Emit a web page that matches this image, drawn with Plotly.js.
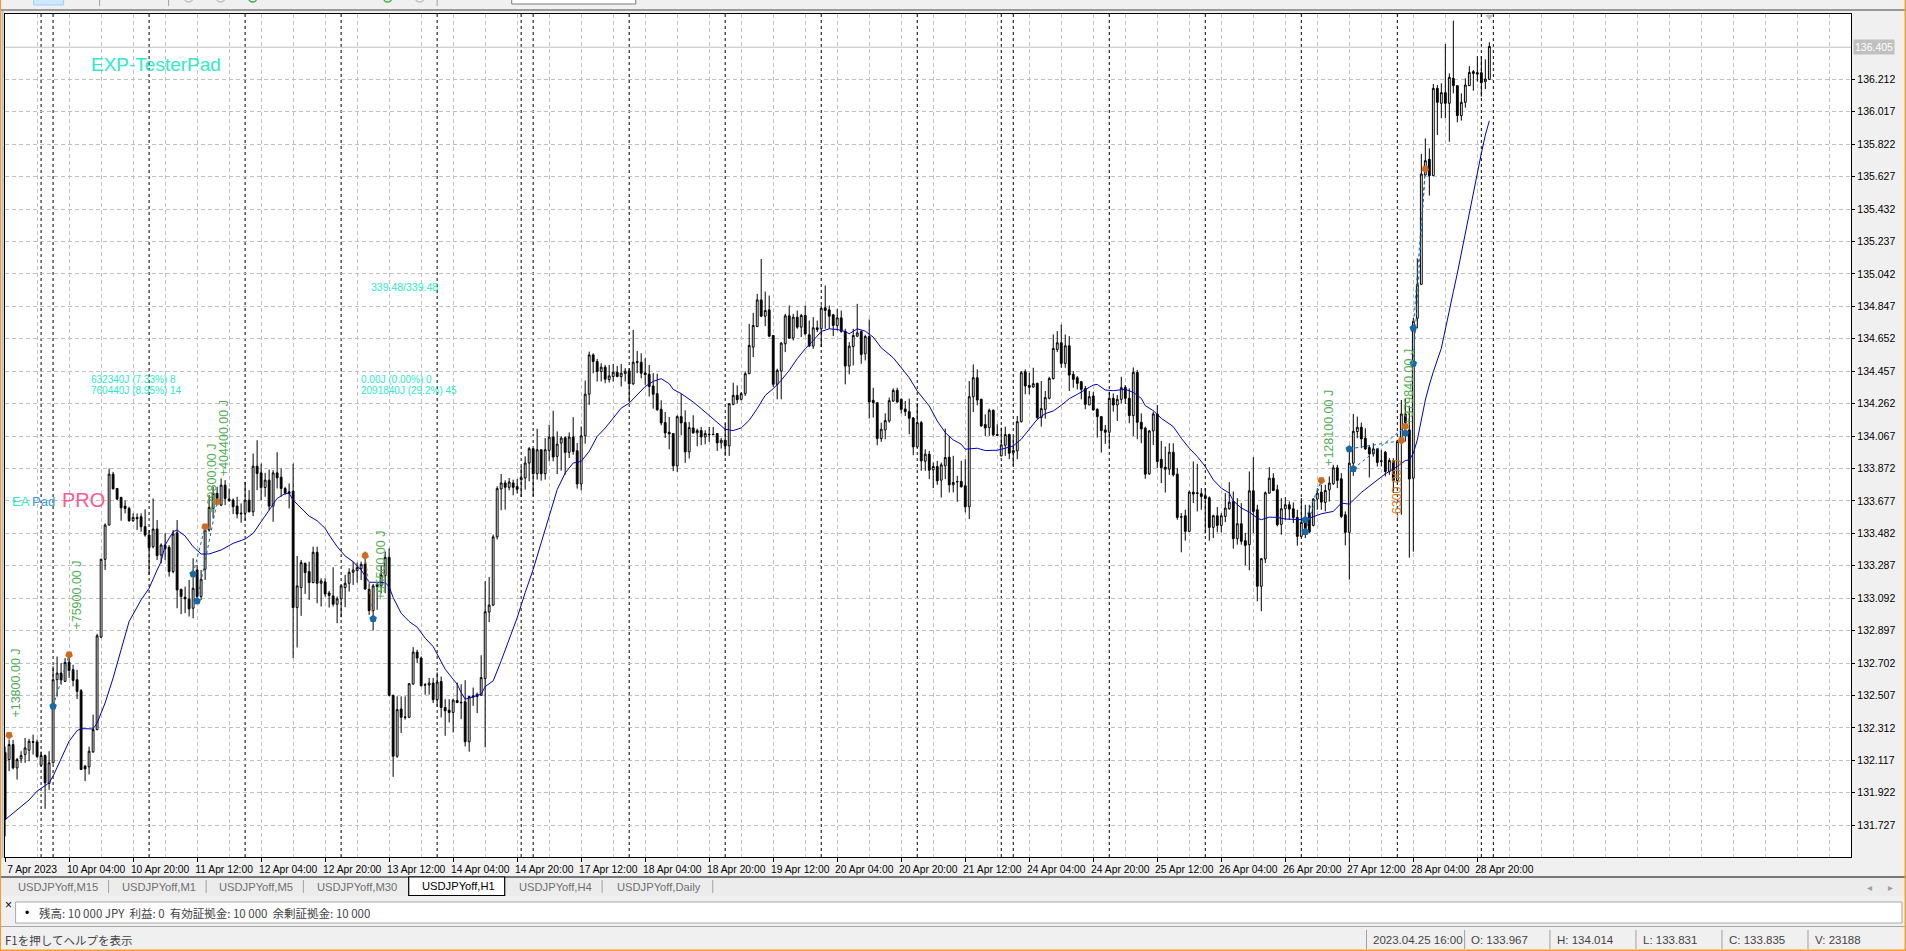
<!DOCTYPE html>
<html><head><meta charset="utf-8"><title>USDJPYoff,H1</title>
<script src="https://cdn.plot.ly/plotly-3.0.1.min.js"></script>
<style>html,body{margin:0;padding:0;background:#f0f0f0;overflow:hidden}#chart{width:1906px;height:951px}</style>
</head><body><div id="chart"></div>
<script>
// every row: open, high, low, close (price, USDJPY H1)
const barsA = [
[132.164,132.2,131.66,131.762],[132.122,132.242,132.052,132.212],[132.212,132.24,132.062,132.072],[132.072,132.132,132.002,132.122],
[132.126,132.172,132.102,132.146],[132.152,132.252,132.102,132.192],[132.178,132.246,132.112,132.232],[132.23,132.272,132.152,132.226],
[132.228,132.242,132.132,132.14],[132.088,132.17,132.08,132.146],[132.146,132.152,131.826,131.982],[131.978,132.172,131.94,132.102],
[132.102,132.682,132.1,132.602],[132.602,132.742,132.5,132.642],[132.642,132.702,132.572,132.6],[132.592,132.732,132.588,132.706],
[132.708,132.742,132.612,132.658],[132.662,132.692,132.562,132.598],[132.602,132.662,132.486,132.532],[132.536,132.546,132.06,132.062],
[132.082,132.09,131.992,132.066],[132.078,132.2,132.032,132.172],[132.168,132.392,132.162,132.302],[132.302,132.878,132.298,132.866],
[132.858,133.33,132.852,133.326],[133.326,133.542,133.262,133.532],[133.532,133.872,133.53,133.838],[133.838,133.852,133.746,133.75],
[133.752,133.752,133.682,133.688],[133.698,133.702,133.558,133.636],[133.646,133.68,133.602,133.632],[133.632,133.642,133.552,133.558],
[133.558,133.602,133.552,133.578],[133.578,133.602,133.502,133.57],[133.582,133.602,133.492,133.522],[133.522,133.626,133.462,133.472],
[133.472,133.502,133.232,133.396],[133.402,133.692,133.392,133.508],[133.508,133.562,133.322,133.348],[133.352,133.422,133.302,133.412],
[133.412,133.482,133.322,133.39],[133.398,133.412,133.222,133.252],[133.252,133.502,133.242,133.478],[133.486,133.562,133.032,133.142],
[133.146,133.148,132.996,133.102],[133.098,133.162,133.002,133.088],[133.086,133.202,132.982,133.028],[133.032,133.332,132.972,133.152],
[133.262,133.292,133.062,133.102],[133.102,133.262,133.082,133.206],[133.266,133.532,133.202,133.502],[133.502,133.712,133.492,133.638],
[133.632,133.762,133.572,133.722],[133.722,133.762,133.662,133.692]];
const barsB = [
[133.652,133.812,133.646,133.772],[133.772,133.802,133.652,133.692],[133.688,133.752,133.672,133.678],[133.682,133.692,133.598,133.642],
[133.646,133.702,133.572,133.598],[133.604,133.662,133.546,133.6],[133.602,133.792,133.558,133.682],[133.682,133.742,133.608,133.612],
[133.612,133.962,133.586,133.886],[133.886,134.042,133.742,133.842],[133.846,133.902,133.682,133.758],[133.758,133.846,133.702,133.802],
[133.802,133.866,133.622,133.646],[133.646,133.862,133.552,133.846],[133.846,133.97,133.752,133.816],[133.82,133.872,133.702,133.752],
[133.752,133.762,133.712,133.726],[133.732,133.782,133.632,133.722],[133.736,133.902,132.732,133.036],[133.036,133.346,132.796,133.166],
[133.156,133.322,132.986,133.306],[133.302,133.306,133.118,133.246],[133.252,133.312,133.082,133.186],[133.186,133.402,133.182,133.368],
[133.368,133.402,133.062,133.182],[133.182,133.212,133.042,133.196],[133.19,133.212,133.102,133.118],[133.124,133.136,133.036,133.108],
[133.106,133.278,133.042,133.056],[133.056,133.102,132.942,133.088],[133.088,133.172,132.978,133.166],[133.156,133.232,133.038,133.182],
[133.182,133.272,133.132,133.248],[133.248,133.312,133.172,133.262],[133.258,133.306,133.186,133.276],[133.27,133.312,133.202,133.296],
[133.298,133.372,133.142,133.148],[133.146,133.182,132.992,133.018],[133.018,133.178,132.898,133.166],[133.176,133.186,133.022,133.162],
[133.166,133.292,133.122,133.232],[133.228,133.372,133.122,133.338],[133.338,133.392,132.502,132.508],[132.508,132.512,132.018,132.142],
[132.142,132.502,132.132,132.422],[132.426,132.502,132.282,132.376],[132.378,132.502,132.362,132.376],[132.376,132.582,132.372,132.578],
[132.576,132.798,132.572,132.768],[132.768,132.782,132.702,132.732],[132.732,132.742,132.562,132.566],[132.572,132.582,132.512,132.57],
[132.57,132.612,132.512,132.582],[132.582,132.612,132.462,132.482]];
const barsC = [
[132.482,132.646,132.442,132.588],[132.591,132.621,132.375,132.435],[132.435,132.485,132.265,132.415],[132.419,132.485,132.345,132.405],
[132.405,132.489,132.285,132.479],[132.477,132.585,132.461,132.465],[132.466,132.575,132.365,132.464],[132.469,132.599,132.201,132.229],
[132.229,132.503,132.169,132.501],[132.497,132.555,132.445,132.505],[132.501,132.525,132.401,132.515],[132.509,132.749,132.505,132.615],
[132.609,133.195,132.195,133.011],[133.009,133.219,132.949,133.051],[133.051,133.475,133.045,133.461],[133.461,133.765,133.445,133.751],
[133.749,133.839,133.621,133.785],[133.785,133.801,133.625,133.759],[133.759,133.815,133.741,133.791],[133.785,133.805,133.711,133.759],
[133.763,133.809,133.721,133.747],[133.805,133.885,133.701,133.817],[133.815,133.945,133.745,133.905],[133.905,134.001,133.795,133.991],
[133.991,133.995,133.705,133.841],[133.841,134.111,133.805,133.985],[133.985,133.985,133.799,133.841],[133.841,134.055,133.805,133.985],
[133.981,134.135,133.915,134.061],[134.061,134.219,133.915,133.941],[133.945,134.095,133.839,134.019],[134.025,134.065,133.859,134.055],
[134.057,134.065,133.835,133.969],[133.969,134.089,133.935,134.061],[134.061,134.181,133.955,133.975],[133.979,134.025,133.751,133.779],
[133.779,134.125,133.741,134.069],[134.069,134.401,134.021,134.319],[134.319,134.575,134.255,134.555],[134.555,134.565,134.445,134.515],
[134.515,134.531,134.395,134.455],[134.455,134.505,134.395,134.481],[134.481,134.495,134.385,134.409],[134.407,134.495,134.389,134.429],
[134.425,134.501,134.395,134.451],[134.451,134.489,134.421,134.425],[134.425,134.501,134.365,134.445],[134.443,134.475,134.395,134.457],
[134.459,134.475,134.271,134.381],[134.381,134.705,134.375,134.511],[134.515,134.579,134.445,134.511],[134.511,134.565,134.415,134.445],
[134.447,134.535,134.375,134.437],[134.439,134.495,134.305,134.365]];
const barsD = [
[134.368,134.446,134.232,134.318],[134.322,134.442,134.218,134.226],[134.228,134.282,134.132,134.146],[134.148,134.212,134.056,134.086],
[134.09,134.182,133.988,134.08],[134.082,134.082,133.856,133.888],[133.888,134.192,133.852,134.184],[134.184,134.322,134.072,134.146],
[134.148,134.222,133.906,133.972],[133.972,134.152,133.932,134.118],[134.116,134.192,134.082,134.086],[134.086,134.112,134.006,134.1],
[134.1,134.122,134.012,134.062],[134.062,134.102,134.018,134.082],[134.078,134.122,134.032,134.076],[134.078,134.122,134.072,134.076],
[134.082,134.082,133.978,134.026],[134.026,134.056,133.992,134.042],[134.042,134.142,133.948,134.008],[134.008,134.262,133.948,134.262],
[134.258,134.388,134.252,134.312],[134.312,134.372,134.262,134.286],[134.288,134.332,134.282,134.322],[134.322,134.456,134.308,134.442],
[134.442,134.742,134.44,134.612],[134.602,134.808,134.542,134.732],[134.726,134.922,134.722,134.886],[134.886,135.132,134.782,134.788],
[134.788,134.936,134.728,134.822],[134.826,134.912,134.662,134.668],[134.672,134.672,134.362,134.378],[134.378,134.472,134.288,134.462],
[134.458,134.632,134.288,134.626],[134.622,134.802,134.572,134.79],[134.79,134.852,134.652,134.656],[134.656,134.802,134.642,134.782],
[134.782,134.822,134.712,134.722],[134.722,134.802,134.662,134.792],[134.792,134.852,134.672,134.682],[134.676,134.762,134.602,134.608],
[134.608,134.782,134.592,134.718],[134.718,134.762,134.692,134.708],[134.712,134.852,134.602,134.836],[134.838,134.972,134.712,134.822],
[134.826,134.852,134.712,134.788],[134.796,134.802,134.668,134.732],[134.732,134.832,134.702,134.778],[134.778,134.822,134.688,134.696],
[134.696,134.712,134.378,134.488],[134.488,134.632,134.438,134.608],[134.606,134.712,134.492,134.672],[134.668,134.862,134.662,134.688],
[134.696,134.702,134.502,134.558],[134.562,134.676,134.522,134.666],[134.666,134.768,134.172,134.272]];
const barsE = [
[134.282,134.358,134.178,134.268],[134.268,134.268,134.012,134.052],[134.052,134.148,134.032,134.108],[134.104,134.204,134.048,134.16],
[134.158,134.298,134.148,134.28],[134.278,134.354,134.272,134.342],[134.342,134.358,134.268,134.272],[134.288,134.294,134.204,134.228],
[134.23,134.278,134.188,134.214],[134.214,134.292,134.078,134.174],[134.176,134.182,133.952,134.002],[134.002,134.264,133.998,134.148],
[134.148,134.158,133.858,133.918],[133.916,133.988,133.858,133.958],[133.958,133.978,133.808,133.862],[133.864,133.908,133.754,133.884],
[133.884,133.918,133.774,133.798],[133.802,133.908,133.698,133.894],[133.888,134.112,133.808,133.938],[133.94,134.068,133.728,133.774],
[133.774,133.948,133.728,133.788],[133.794,133.828,133.672,133.792],[133.794,133.918,133.758,133.762],[133.768,133.928,133.608,133.642],
[133.642,134.398,133.568,134.304],[134.304,134.498,134.212,134.418],[134.418,134.468,134.252,134.284],[134.288,134.292,134.124,134.128],
[134.136,134.198,134.068,134.116],[134.118,134.232,134.068,134.222],[134.222,134.228,134.068,134.074],[134.076,134.138,134.068,134.072],
[133.948,134.118,133.944,134.014],[134.012,134.124,133.948,134.076],[134.076,134.082,133.928,133.964],[133.966,134.068,133.888,133.98],
[133.978,134.188,133.928,134.154],[134.154,134.458,134.148,134.448],[134.454,134.468,134.318,134.368],[134.372,134.448,134.318,134.36],
[134.362,134.478,134.358,134.382],[134.384,134.388,134.168,134.178],[134.178,134.398,134.124,134.232],[134.228,134.338,134.172,134.298],
[134.294,134.424,134.288,134.414],[134.412,134.678,134.408,134.594],[134.588,134.698,134.572,134.628],[134.628,134.738,134.478,134.504],
[134.504,134.678,134.478,134.61],[134.61,134.668,134.338,134.434],[134.438,134.458,134.358,134.408],[134.418,134.428,134.348,134.384],
[134.394,134.398,134.288,134.348],[134.352,134.368,134.228,134.258]];
const barsF = [
[134.254,134.338,134.254,134.304],[134.308,134.334,134.22,134.224],[134.228,134.234,134.058,134.184],[134.184,134.184,133.968,134.1],
[134.104,134.134,134.02,134.09],[134.09,134.334,133.994,134.294],[134.294,134.324,134.214,134.254],[134.254,134.314,134.158,134.288],
[134.288,134.424,134.264,134.358],[134.36,134.374,134.26,134.294],[134.294,134.354,134.144,134.19],[134.19,134.48,134.068,134.45],
[134.45,134.464,134.048,134.15],[134.15,134.204,134.024,134.11],[134.114,134.124,133.81,133.838],[133.84,134.104,133.834,134.098],
[134.098,134.214,134.014,134.2],[134.2,134.254,133.874,133.914],[133.928,134.038,133.784,133.878],[133.88,134.004,133.728,133.868],
[133.868,134.024,133.834,133.97],[133.97,134.024,133.824,133.834],[133.838,133.874,133.564,133.578],[133.582,133.604,133.368,133.58],
[133.588,133.624,133.438,133.494],[133.494,133.74,133.49,133.73],[133.73,133.914,133.664,133.718],[133.726,133.9,133.614,133.722],
[133.72,133.754,133.624,133.704],[133.708,133.754,133.484,133.692],[133.696,133.704,133.438,133.518],[133.518,133.594,133.454,133.588],
[133.588,133.64,133.488,133.53],[133.53,133.604,133.488,133.588],[133.584,133.724,133.55,133.634],[133.63,133.79,133.624,133.67],
[133.674,133.734,133.39,133.45],[133.45,133.694,133.414,133.54],[133.54,133.664,133.414,133.434],[133.438,133.484,133.29,133.41],
[133.414,133.854,133.26,133.738],[133.738,133.94,133.484,133.614],[133.624,133.654,133.074,133.164],[133.164,133.33,133.014,133.33],
[133.328,133.734,133.304,133.726],[133.724,133.88,133.72,133.814],[133.814,133.844,133.736,133.74],[133.744,133.774,133.524,133.534],
[133.536,133.694,133.474,133.63],[133.63,133.7,133.564,133.654],[133.654,133.674,133.564,133.628],[133.63,133.668,133.544,133.578],
[133.578,133.624,133.408,133.464],[133.464,133.694,133.46,133.548]];
const barsG = [
[133.544,133.654,133.454,133.494],[133.604,133.654,133.484,133.49],[133.53,133.694,133.524,133.688],[133.688,133.754,133.624,133.724],
[133.73,133.774,133.624,133.67],[133.668,133.774,133.614,133.74],[133.744,133.824,133.674,133.784],[133.78,133.894,133.774,133.876],
[133.876,133.894,133.754,133.8],[133.81,133.844,133.574,133.584],[133.594,133.614,133.41,133.488],[133.488,133.984,133.204,133.904],
[133.904,134.2,133.828,134.096],[134.094,134.184,134.054,134.12],[134.12,134.148,133.994,134.05],[134.054,134.114,133.984,133.99],
[133.998,134.014,133.818,133.96],[133.96,134.024,133.944,133.99],[133.99,133.994,133.884,133.908],[133.914,133.984,133.884,133.918],
[133.97,133.978,133.824,133.854],[133.854,133.934,133.834,133.92],[133.918,133.934,133.724,133.8],[133.8,134.044,133.784,134.034],
[134.034,134.284,133.594,134.2],[134.2,134.294,134.034,134.148],[134.104,134.25,133.336,133.809],[133.814,134.777,133.372,134.757],
[134.775,135.136,134.715,134.976],[134.98,135.763,134.975,135.643],[135.637,135.857,135.633,135.723],[135.731,135.797,135.513,135.633],
[135.633,136.184,135.632,136.158],[136.158,136.178,135.877,136.074],[136.068,136.188,135.978,136.132],[136.132,136.424,135.978,136.068],
[136.068,136.248,135.837,136.224],[136.218,136.565,136.128,136.174],[136.174,136.178,135.954,135.994],[135.994,136.128,135.964,136.074],
[136.074,136.218,136.042,136.178],[136.174,136.292,136.172,136.254],[136.258,136.268,136.144,136.248],[136.252,136.352,136.198,136.244],
[136.252,136.352,136.108,136.192],[136.198,136.332,136.154,136.214],[136.212,136.435,136.208,136.41]];

const maIndex = [0,3,6,8,11,12,14,16,18,19,22,23,25,27,29,31,34,36,38,39,40,42,43,45,47,49,51,54,57,60,62,64,66,68,70,71,72,74,76,78,80,81,83,85,87,89,91,93,95,96,97,99,101,103,105,107,108,110,112,113,114,115,117,119,120,122,124,126,128,130,132,134,136,138,140,142,144,146,148,150,152,154,156,158,160,162,164,166,167,169,172,174,176,178,180,182,184,186,188,190,192,194,196,198,200,202,204,206,208,210,211,213,215,217,219,222,224,226,228,231,233,235,237,239,240,243,245,248,250,252,254,256,258,260,262,264,266,268,270,272,273,275,277,280,282,284,285,287,289,292,294,296,298,300,302,304,306,307,309,311,313,314,316,318,320,324,325,329,332,334,336,339,342,345,348,350,351,352,353,354,355,356,357,359,360,361,362,363,364,365,366,367,368,369,370,371];
const maValue = [131.76,131.822,131.879,131.932,131.982,132.022,132.122,132.232,132.296,132.308,132.306,132.342,132.462,132.612,132.782,132.952,133.082,133.152,133.262,133.312,133.412,133.492,133.502,133.466,133.402,133.358,133.358,133.382,133.422,133.448,133.482,133.552,133.622,133.692,133.722,133.722,133.682,133.632,133.586,133.558,133.512,133.472,133.402,133.346,133.312,133.262,133.188,133.188,133.186,133.162,133.096,133.002,132.952,132.918,132.852,132.802,132.755,132.665,132.605,132.575,132.525,132.485,132.499,132.515,132.561,132.595,132.715,132.845,132.975,133.125,133.265,133.425,133.585,133.745,133.845,133.905,133.915,133.975,134.065,134.115,134.175,134.235,134.265,134.315,134.365,134.396,134.412,134.382,134.348,134.322,134.272,134.232,134.192,134.148,134.108,134.1,134.116,134.162,134.232,134.312,134.352,134.402,134.462,134.532,134.592,134.642,134.696,134.712,134.708,134.696,134.682,134.712,134.698,134.662,134.598,134.538,134.478,134.418,134.338,134.248,134.158,134.088,134.044,134.018,133.988,133.994,133.98,133.982,133.994,134.008,134.048,134.108,134.168,134.202,134.218,134.252,134.292,134.318,134.348,134.374,134.378,134.344,134.34,134.348,134.33,134.294,134.25,134.22,134.174,134.124,134.054,133.994,133.944,133.884,133.804,133.754,133.724,133.678,133.634,133.61,133.574,133.564,133.58,133.578,133.568,133.568,133.564,133.6,133.614,133.664,133.658,133.728,133.784,133.84,133.884,133.92,133.924,133.964,134.044,134.164,134.284,134.374,134.454,134.595,134.715,134.835,134.935,135.046,135.166,135.296,135.406,135.547,135.667,135.767,135.877,135.963];

const buyIndex = [12,47,48,92,325,325,336,337,350,352,352];
const buyPrice = [132.442,133.238,133.076,132.968,133.564,133.492,133.99,133.87,134.086,134.504,134.715];
const sellIndex = [1,16,50,53,90,329,349,350,355];
const sellPrice = [132.268,132.752,133.522,133.672,133.348,133.8,134.04,134.124,135.673];
const tradeLineIndex = [12,16,null,47,50,null,48,53,null,325,329,null,325,329,null,336,349,null,337,350,null,352,355,null,352,355];
const tradeLinePrice = [132.442,132.752,null,133.238,133.522,null,133.076,133.672,null,133.564,133.8,null,133.492,133.8,null,133.99,134.04,null,133.87,134.124,null,134.504,135.673,null,134.715,135.673];
const lossLineIndex = [90,92];
const lossLinePrice = [133.348,132.968];

const xLabels = ["7 Apr 2023","10 Apr 04:00","10 Apr 20:00","11 Apr 12:00","12 Apr 04:00","12 Apr 20:00","13 Apr 12:00","14 Apr 04:00","14 Apr 20:00","17 Apr 12:00","18 Apr 04:00","18 Apr 20:00","19 Apr 12:00","20 Apr 04:00","20 Apr 20:00","21 Apr 12:00","24 Apr 04:00","24 Apr 20:00","25 Apr 12:00","26 Apr 04:00","26 Apr 20:00","27 Apr 12:00","28 Apr 04:00","28 Apr 20:00"];
const xLabelIndex = [0,16,32,48,64,80,96,112,128,144,160,176,192,208,224,240,256,272,288,304,320,336,352,368];
const priceTicks = [131.727,131.922,132.117,132.312,132.507,132.702,132.897,133.092,133.287,133.482,133.677,133.872,134.067,134.262,134.457,134.652,134.847,135.042,135.237,135.432,135.627,135.822,136.017,136.212];
const separatorIndex = [9,12,36,60,84,108,129,132,156,180,204,228,249,252,276,300,324,348,369,372];
const lastPrice = 136.405;

const ohlc = [...barsA,...barsB,...barsC,...barsD,...barsE,...barsF,...barsG];
const idx = ohlc.map((r,i)=>i);

const W=1906,H=951,L=5.4,R=55,T=14,B=94;
const PX=x=>(x-L)/(W-L-R), PY=y=>1-(y-T)/(H-T-B);
const SANS='"Liberation Sans",Arial,sans-serif';
const CJK='"Noto Sans CJK JP","Liberation Sans",sans-serif';

const traces=[
 {type:'candlestick',x:idx,open:ohlc.map(r=>r[0]),high:ohlc.map(r=>r[1]),low:ohlc.map(r=>r[2]),close:ohlc.map(r=>r[3]),
  whiskerwidth:0,hoverinfo:'skip',
  increasing:{line:{color:'#000',width:1},fillcolor:'#fff'},
  decreasing:{line:{color:'#000',width:1},fillcolor:'#000'}},
 {type:'scatter',mode:'lines',x:maIndex,y:maValue,line:{color:'#0000CD',width:1},hoverinfo:'skip'},
 {type:'scatter',mode:'lines',x:tradeLineIndex,y:tradeLinePrice,connectgaps:false,line:{color:'#1668A8',width:1,dash:'3px,3px'},hoverinfo:'skip'},
 {type:'scatter',mode:'lines',x:lossLineIndex,y:lossLinePrice,line:{color:'#D2691E',width:1,dash:'3px,3px'},hoverinfo:'skip'},
 {type:'scatter',mode:'markers',x:buyIndex,y:buyPrice,marker:{symbol:'pentagon',size:8,color:'#1668A8',line:{width:0}},hoverinfo:'skip'},
 {type:'scatter',mode:'markers',x:sellIndex,y:sellPrice,marker:{symbol:'pentagon',angle:180,size:8,color:'#D2691E',line:{width:0}},hoverinfo:'skip'},
 {type:'scatter',mode:'markers',x:[371],y:[136.59],marker:{symbol:'triangle-down',size:7,color:'#C0C0C0'},hoverinfo:'skip'}
];

const rect=(x0,y0,x1,y1,fill,line,lw)=>({type:'rect',xref:'paper',yref:'paper',layer:'below',x0:PX(x0),x1:PX(x1),y0:PY(y0),y1:PY(y1),fillcolor:fill,line:{color:line||fill,width:line?(lw||1):0}});
const vsep=(x,y0,y1,c)=>({type:'line',xref:'paper',yref:'paper',layer:'below',x0:PX(x),x1:PX(x),y0:PY(y0),y1:PY(y1),line:{color:c||'#a0a0a0',width:1}});
const dot=(x,c)=>({type:'circle',xref:'paper',yref:'paper',layer:'below',x0:PX(x-4),x1:PX(x+4),y0:PY(-5),y1:PY(2),fillcolor:'rgba(0,0,0,0)',line:{color:c,width:1.4}});

const shapes=[
 ...separatorIndex.map(i=>({type:'line',xref:'x',yref:'paper',x0:i,x1:i,y0:0,y1:1,layer:'below',line:{color:'#000',width:1,dash:'3px,3px'}})),
 {type:'line',xref:'paper',yref:'y',x0:0,x1:1,y0:lastPrice,y1:lastPrice,layer:'below',line:{color:'#C0C0C0',width:1.2}},
 // window chrome
 rect(0,9,1906,11,'#9a9a9a'),
 rect(2,11,4,858,'#bdbdbd'),
 rect(34,-2,64,5,'#cce8ff','#99d1ff'),
 vsep(100,0,6),vsep(169,0,6),vsep(437.5,0,6),
 dot(189,'#c0c0c0'),dot(221,'#c0c0c0'),dot(253,'#3cb043'),dot(388,'#3cb043'),dot(420,'#c0c0c0'),
 rect(512,-2,636,4,'#ffffff','#7a7a7a'),
 rect(0,877,1906,896,'#ececec'),
 {type:'line',xref:'paper',yref:'paper',layer:'below',x0:PX(0),x1:PX(1906),y0:PY(877),y1:PY(877),line:{color:'#000',width:1.2}},
 rect(409,877,505,895.5,'#ffffff','#000',1.2),
 vsep(109,880,893),vsep(206.5,880,893),vsep(303.7,880,893),vsep(602.4,880,893),vsep(713,880,893),
 rect(16,902,1902,923,'#ffffff','#a8a8a8'),
 rect(0,926,1906,951,'#f0f0f0'),
 {type:'line',xref:'paper',yref:'paper',layer:'below',x0:PX(0),x1:PX(1906),y0:PY(926.5),y1:PY(926.5),line:{color:'#a8a8a8',width:1}},
 vsep(1366.6,930,949),vsep(1464.7,930,949),vsep(1550,930,949),vsep(1636,930,949),vsep(1722,930,949),vsep(1808,930,949),
 rect(0,0,1.5,951,'#F0A030'),rect(1904.5,0,1906,951,'#F0A030'),rect(0,949.5,1906,951,'#F0A030')
];

const txt=(t,x,y,size,color,font,opt)=>Object.assign({xref:'paper',yref:'paper',x:PX(x),y:PY(y),text:t,showarrow:false,xanchor:'left',yanchor:'middle',font:{family:font||SANS,size:size,color:color},borderpad:0},opt||{});
const vtxt=(t,x,y,color)=>txt(t,x,y,12.5,color,SANS,{textangle:-90,xanchor:'center'});
const CY='#2BEBCB',GR='#4CAF50',OR='#D2791E';
const annotations=[
 txt('EXP-TesterPad',90,64,19,CY),
 txt('339.48/339.48',370,287,10.5,CY),
 txt('632340J (7.33%) 8',90.5,379,10,CY),
 txt('760440J (8.95%) 14',90.5,390,10,CY),
 txt('0.00J (0.00%) 0',360,379,10,CY),
 txt('2091840J (29.2%) 45',360,390,10,CY),
 txt('EA',11.5,501,13,CY),
 txt('Pad',31,501,13,'#3A9BE0'),
 txt('PRO',61,500,20,'#FF5A90'),
 vtxt('+13800.00 J',16,683,GR),
 vtxt('+75900.00 J',77,595,GR),
 vtxt('+29800.00 J',212,478,GR),
 vtxt('+404400.00 J',224.5,438,GR),
 vtxt('+95500.00 J',381,565,GR),
 vtxt('+128100.00 J',1329,428,GR),
 vtxt('+379840.00 J',1409,387,GR),
 vtxt('-6300.00 J',1397.5,489,OR),
 {xref:'paper',yref:'y',x:PX(1853),y:lastPrice,text:'136.405',showarrow:false,xanchor:'left',yanchor:'middle',bgcolor:'#C0C0C0',borderpad:1,font:{family:SANS,size:10.5,color:'#fff'}},
 txt('USDJPYoff,M15',17,887,11.2,'#707070'),
 txt('USDJPYoff,M1',121,887,11.2,'#707070'),
 txt('USDJPYoff,M5',218,887,11.2,'#707070'),
 txt('USDJPYoff,M30',316,887,11.2,'#707070'),
 txt('USDJPYoff,H1',421,886,11.2,'#000'),
 txt('USDJPYoff,H4',518,887,11.2,'#707070'),
 txt('USDJPYoff,Daily',616,887,11.2,'#707070'),
 txt('◂',1866,887,10,'#a0a0a0'),
 txt('▸',1887,887,10,'#a0a0a0'),
 txt('×',4,905,12,'#000'),
 txt('•',24,912.5,12,'#000'),
 txt('残高: 10 000 JPY  利益: 0  有効証拠金: 10 000  余剰証拠金: 10 000',38,912.5,11.5,'#444',CJK),
 txt('F1を押してヘルプを表示',4,940,11.5,'#444',CJK),
 txt('2023.04.25 16:00',1372,940,11.5,'#444'),
 txt('O: 133.967',1470,940,11.5,'#444'),
 txt('H: 134.014',1556,940,11.5,'#444'),
 txt('L: 133.831',1642,940,11.5,'#444'),
 txt('C: 133.835',1728,940,11.5,'#444'),
 txt('V: 23188',1813.6,940,11.5,'#444')
];

const gridStyle={gridcolor:'#C0C0C0',griddash:'4px,3px',gridwidth:1};
const layout={
 width:W,height:H,autosize:false,margin:{l:L,r:R,t:T,b:B,pad:0},
 paper_bgcolor:'#F0F0F0',plot_bgcolor:'#FFFFFF',showlegend:false,boxgap:0.35,dragmode:false,hovermode:false,
 xaxis:Object.assign({type:'linear',range:[-0.02,461.4],rangeslider:{visible:false},tickmode:'array',tickvals:xLabelIndex,ticktext:xLabels,
  showgrid:true,zeroline:false,showline:true,mirror:true,linecolor:'#000',linewidth:1.2,ticks:'outside',ticklen:4,tickcolor:'#000',tickwidth:1,
  tickangle:0,ticklabelshift:27,ticklabeloverflow:'allow',ticklabelstandoff:-2,tickfont:{family:SANS,size:10.3,color:'#000'},
  minor:Object.assign({dtick:8,tick0:0,showgrid:true,ticks:''},gridStyle)},gridStyle),
 yaxis:Object.assign({side:'right',range:[131.536,136.605],tickmode:'array',tickvals:priceTicks,ticktext:priceTicks.map(v=>v.toFixed(3)),
  showgrid:true,zeroline:false,showline:true,mirror:true,linecolor:'#000',linewidth:1.2,ticks:'outside',ticklen:3,tickcolor:'#000',
  tickfont:{family:SANS,size:10.5,color:'#000'}},gridStyle),
 shapes,annotations
};
Plotly.newPlot('chart',traces,layout,{displayModeBar:false,staticPlot:true,responsive:false});
</script></body></html>
